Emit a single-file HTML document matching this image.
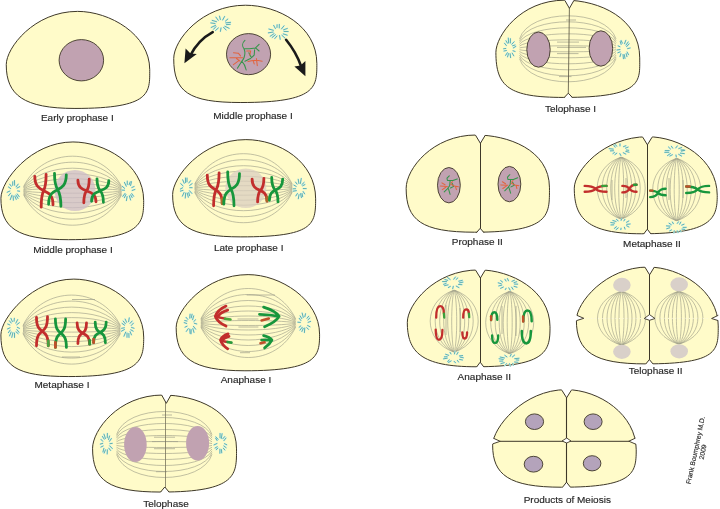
<!DOCTYPE html>
<html><head><meta charset="utf-8"><style>
html,body{margin:0;padding:0;background:#fff;}
svg{display:block;}
text{font-family:"Liberation Sans",sans-serif;font-size:10px;fill:#262626;stroke:#262626;stroke-width:0.15px;}
.t{will-change:transform;}
</style></head><body>
<svg class="t" width="720" height="509" viewBox="0 0 720 509">
<rect width="720" height="509" fill="#fff"/>
<path d="M77.63,11.38C109.64,11.38 149.72,34.35 149.72,69.52C149.72,92.71 151.81,108.44 74.96,108.44C23.47,108.44 6.26,95.07 6.26,64.66C6.26,47.78 34.12,11.38 77.63,11.38Z" fill="#fffbc9" stroke="#3e3828" stroke-width="1"/>
<ellipse cx="81.35" cy="60.25" rx="22.25" ry="20.65" fill="#c1a2b1" stroke="#3e3828" stroke-width="0.9"/>
<text x="77.3" y="121.5" text-anchor="middle" transform="translate(0 121.5) scale(1 0.96) translate(0 -121.5)">Early prophase I</text>
<path d="M245.42,5.22C277.63,5.22 316.85,25.61 316.85,63.49C316.85,86.84 317.33,102.53 240.83,102.53C188.5,102.53 173.72,91.94 173.72,58.59C173.72,40.2 201.47,5.22 245.42,5.22Z" fill="#fffbc9" stroke="#3e3828" stroke-width="1"/>
<ellipse cx="248.55" cy="54.15" rx="22.05" ry="20.55" fill="#c1a2b1" stroke="#3e3828" stroke-width="0.9"/>
<path d="M244.9,40.4 C242.5,42.5 241.8,46 244,48.8 C248,48.8 252,48.4 255.5,47.9 L259.1,44.4 M255.5,47.9 L259.1,51 M244,48.8 C245,51 245,55 244,57.7 C243.5,59 242.8,60.2 241.8,61.2 L237.4,68.3 M241.8,61.2 C243.5,63 245.2,65.5 246.2,70 M248.9,52.8 C249.8,55 250.5,56.5 251.5,57.7 C252.8,56.5 254,55.5 254.2,55 L254.6,49.7 M250.7,58.5 C249,59 247.5,60 244.9,61.2" fill="none" stroke="#35954a" stroke-width="1.05" stroke-linecap="round" stroke-linejoin="round" />
<path d="M229.9,57.7 L242.7,57.7 M233.4,52.8 L238.3,53.2 L240.5,55.9 M236.5,58.5 L240,61.2 M233.4,64.7 L239.2,60.3 M246.7,51 L250.7,51 L249.8,55 M248,61.6 L251.5,60.8 L256.9,60.3 L262.2,61.2 M256.4,58.5 L257.3,65.6 M253.3,61.2 L254.2,63.9" fill="none" stroke="#e2643f" stroke-width="1.05" stroke-linecap="round" stroke-linejoin="round" />
<path d="M226.42,24.63 L230.28,24.34M224.89,26.32 L229.11,28.3M223.54,27.3 L226.11,30.04M221.03,27.98 L220.42,31.43M218.37,27.95 L215.51,30.49M215.9,26.72 L213.6,29.2M215.57,25.36 L211.2,27.43M214.98,23.48 L210.83,22.93M216.52,21.67 L212.18,20.38M218.25,20.31 L215.91,17.13M220.36,19.51 L219.52,16.17M222.66,19.97 L224.58,16.51M225.44,21.07 L227.81,19.04M225.76,22.86 L230.57,22.35" stroke="#d2f2e6" stroke-width="1.7" stroke-linecap="round"/><path d="M226.42,24.63 L230.28,24.34M224.89,26.32 L229.11,28.3M223.54,27.3 L226.11,30.04M221.03,27.98 L220.42,31.43M218.37,27.95 L215.51,30.49M215.9,26.72 L213.6,29.2M215.57,25.36 L211.2,27.43M214.98,23.48 L210.83,22.93M216.52,21.67 L212.18,20.38M218.25,20.31 L215.91,17.13M220.36,19.51 L219.52,16.17M222.66,19.97 L224.58,16.51M225.44,21.07 L227.81,19.04M225.76,22.86 L230.57,22.35" stroke="#44a0a2" stroke-width="0.8" stroke-linecap="round"/>
<path d="M284.04,31.45 L288.2,31.55M283.26,33.91 L287.2,35.16M281.91,35.27 L284.78,37.95M279.53,35.52 L280.21,39.31M276.99,36.04 L274.82,38.52M275.4,34.81 L272.17,37.47M274.05,33.65 L270.19,36.23M273.12,32.06 L268.33,32.85M273.33,30.27 L268.88,29.04M275.4,28.56 L273.66,25.39M276.96,27.46 L277.09,24.74M279.26,27.91 L279.3,24.39M281.53,28.89 L284.01,25.81M283.6,29.77 L287.34,28.46" stroke="#d2f2e6" stroke-width="1.7" stroke-linecap="round"/><path d="M284.04,31.45 L288.2,31.55M283.26,33.91 L287.2,35.16M281.91,35.27 L284.78,37.95M279.53,35.52 L280.21,39.31M276.99,36.04 L274.82,38.52M275.4,34.81 L272.17,37.47M274.05,33.65 L270.19,36.23M273.12,32.06 L268.33,32.85M273.33,30.27 L268.88,29.04M275.4,28.56 L273.66,25.39M276.96,27.46 L277.09,24.74M279.26,27.91 L279.3,24.39M281.53,28.89 L284.01,25.81M283.6,29.77 L287.34,28.46" stroke="#44a0a2" stroke-width="0.8" stroke-linecap="round"/>
<path d="M212.7,32.1 Q198,40 190,56" fill="none" stroke="#1a1a1a" stroke-width="2.6" stroke-linecap="round" stroke-linejoin="round" stroke-linecap="butt"/>
<path d="M184.4,63.3 L185.6,48.6 L190.5,53.5 L196.8,53.9 Z" fill="#1a1a1a"/>
<path d="M286.1,39.8 Q296,52 301,66" fill="none" stroke="#1a1a1a" stroke-width="2.6" stroke-linecap="round" stroke-linejoin="round" stroke-linecap="butt"/>
<path d="M305.4,76.2 L294.4,66.6 L300.5,65.5 L305.4,61.1 Z" fill="#1a1a1a"/>
<text x="253" y="118.9" text-anchor="middle" transform="translate(0 118.9) scale(1 0.96) translate(0 -118.9)">Middle prophase I</text>
<path d="M72.95,141.96C103.96,141.96 143.67,163.63 143.67,200.42C143.67,222.56 142.22,239.69 68.61,239.69C16.19,239.69 0.91,227.25 0.91,198.25C0.91,180.97 30.8,141.96 72.95,141.96Z" fill="#fffbc9" stroke="#3e3828" stroke-width="1"/>
<path d="M23.6,190.4 C43.18,187.47 101.92,187.47 121.5,190.4M23.6,189.86 C43.18,181.65 101.92,181.65 121.5,189.86M23.6,189.26 C43.18,175.18 101.92,175.18 121.5,189.26M23.6,188.66 C43.18,168.71 101.92,168.71 121.5,188.66M23.6,188 C43.18,161.6 101.92,161.6 121.5,188M23.6,187.28 C43.18,153.84 101.92,153.84 121.5,187.28M23.6,186.56 C43.18,146.08 101.92,146.08 121.5,186.56M23.6,191 C43.18,193.93 101.92,193.93 121.5,191M23.6,191.54 C43.18,199.75 101.92,199.75 121.5,191.54M23.6,192.14 C43.18,206.22 101.92,206.22 121.5,192.14M23.6,192.74 C43.18,212.69 101.92,212.69 121.5,192.74M23.6,193.4 C43.18,219.8 101.92,219.8 121.5,193.4M23.6,194.12 C43.18,227.56 101.92,227.56 121.5,194.12M23.6,194.84 C43.18,235.32 101.92,235.32 121.5,194.84" fill="none" stroke="#9f9f8a" stroke-width="0.65"/>
<ellipse cx="75" cy="190.5" rx="20.5" ry="20.5" fill="#ccbbc8"  fill-opacity="0.75"/>
<path d="M17.62,190.92 L19.65,191.23M17.24,193.98 L19.19,196.64M15.98,195.03 L18,198.4M14.83,196.13 L16.24,199.41M13.15,196.04 L13.38,200.19M11.89,195.24 L10.28,199.61M10.6,193.2 L8.52,195.72M9.86,191.05 L7.17,192.25M10.72,188.61 L8.46,186.97M11.27,186.19 L9.67,184.18M12.67,185.35 L12.73,181.74M14.65,185.23 L14.46,180.49M16.17,186.8 L18.16,184.14M17.05,188.07 L19.7,186.65" stroke="#d2f2e6" stroke-width="1.7" stroke-linecap="round"/><path d="M17.62,190.92 L19.65,191.23M17.24,193.98 L19.19,196.64M15.98,195.03 L18,198.4M14.83,196.13 L16.24,199.41M13.15,196.04 L13.38,200.19M11.89,195.24 L10.28,199.61M10.6,193.2 L8.52,195.72M9.86,191.05 L7.17,192.25M10.72,188.61 L8.46,186.97M11.27,186.19 L9.67,184.18M12.67,185.35 L12.73,181.74M14.65,185.23 L14.46,180.49M16.17,186.8 L18.16,184.14M17.05,188.07 L19.7,186.65" stroke="#44a0a2" stroke-width="0.8" stroke-linecap="round"/>
<path d="M132.21,190.42 L134.94,189.48M131.72,193.6 L133.65,196.28M130.67,194.83 L132.13,197.5M129.36,195.87 L130.61,199.99M127.1,196.59 L126.39,200.64M125.91,194.61 L124.36,197.71M124.98,193.45 L122.79,196.31M124.5,190.25 L121.8,190.05M124.59,188.3 L122.37,186.43M126.26,186.2 L124.44,182.39M127.29,184.49 L127.26,181.08M129.09,184.69 L130.24,181.77M130.57,185.48 L131.49,181.68M131.82,187.51 L134.13,186.52" stroke="#d2f2e6" stroke-width="1.7" stroke-linecap="round"/><path d="M132.21,190.42 L134.94,189.48M131.72,193.6 L133.65,196.28M130.67,194.83 L132.13,197.5M129.36,195.87 L130.61,199.99M127.1,196.59 L126.39,200.64M125.91,194.61 L124.36,197.71M124.98,193.45 L122.79,196.31M124.5,190.25 L121.8,190.05M124.59,188.3 L122.37,186.43M126.26,186.2 L124.44,182.39M127.29,184.49 L127.26,181.08M129.09,184.69 L130.24,181.77M130.57,185.48 L131.49,181.68M131.82,187.51 L134.13,186.52" stroke="#44a0a2" stroke-width="0.8" stroke-linecap="round"/>
<path d="M34.8,176.3 C34.8,196.39 53,184.99 53,204.8 M46.1,174.3 C46.1,197.19 41.2,184.03 41.2,207.2" fill="none" stroke="#c22e2c" stroke-width="2.8" stroke-linecap="round"/>
<path d="M54.5,173.3 C54.5,196.23 60.9,183.03 60.9,206.3 M66.3,174.8 C66.3,195.62 48.6,183.83 48.6,204.3" fill="none" stroke="#17963c" stroke-width="2.8" stroke-linecap="round"/>
<path d="M77.9,180.2 C77.9,195.32 96,186.68 96,201.8 M89.2,179.2 C89.2,195.72 83.8,186.28 83.8,202.8" fill="none" stroke="#c22e2c" stroke-width="2.8" stroke-linecap="round"/>
<path d="M97,178.8 C97,195.56 103.4,186.16 103.4,202.3 M108.8,180.7 C108.8,194.8 91.6,186.56 91.6,201.3" fill="none" stroke="#17963c" stroke-width="2.8" stroke-linecap="round"/>
<text x="73" y="252.7" text-anchor="middle" transform="translate(0 252.7) scale(1 0.96) translate(0 -252.7)">Middle prophase I</text>
<path d="M245.85,139.61C279.33,139.61 315.64,161.74 315.64,198.82C315.64,224.72 313.69,236.88 240.8,236.88C190.02,236.88 172.62,225.96 172.62,194.53C172.62,177.42 201.33,139.61 245.85,139.61Z" fill="#fffbc9" stroke="#3e3828" stroke-width="1"/>
<path d="M194.7,187.9 C214.2,184.97 272.7,184.97 292.2,187.9M194.7,187.36 C214.2,179.15 272.7,179.15 292.2,187.36M194.7,186.76 C214.2,172.68 272.7,172.68 292.2,186.76M194.7,186.16 C214.2,166.21 272.7,166.21 292.2,186.16M194.7,185.5 C214.2,159.1 272.7,159.1 292.2,185.5M194.7,184.78 C214.2,151.34 272.7,151.34 292.2,184.78M194.7,184.06 C214.2,143.58 272.7,143.58 292.2,184.06M194.7,188.5 C214.2,191.43 272.7,191.43 292.2,188.5M194.7,189.04 C214.2,197.25 272.7,197.25 292.2,189.04M194.7,189.64 C214.2,203.72 272.7,203.72 292.2,189.64M194.7,190.24 C214.2,210.19 272.7,210.19 292.2,190.24M194.7,190.9 C214.2,217.3 272.7,217.3 292.2,190.9M194.7,191.62 C214.2,225.06 272.7,225.06 292.2,191.62M194.7,192.34 C214.2,232.82 272.7,232.82 292.2,192.34" fill="none" stroke="#9f9f8a" stroke-width="0.65"/>
<ellipse cx="245.8" cy="188.2" rx="20.5" ry="19.8" fill="#dbcfc0"  fill-opacity="0.75"/>
<path d="M189.74,187.66 L192.12,187.69M189.5,190.75 L191.87,193.43M188.78,192.57 L189.59,195.66M187.23,193.11 L188.32,197.2M185.68,193.1 L185.25,198.03M184.03,192.5 L182.38,196.13M182.99,190.39 L180.4,191.14M182.65,187.78 L180.38,189.02M183.06,185.87 L180.68,183.59M184.18,183.28 L182.67,179.79M185.57,182.56 L185.45,178.01M187,181.8 L187.04,178.06M188.82,182.95 L190.55,180.73M189.67,185.38 L192.14,183.63" stroke="#d2f2e6" stroke-width="1.7" stroke-linecap="round"/><path d="M189.74,187.66 L192.12,187.69M189.5,190.75 L191.87,193.43M188.78,192.57 L189.59,195.66M187.23,193.11 L188.32,197.2M185.68,193.1 L185.25,198.03M184.03,192.5 L182.38,196.13M182.99,190.39 L180.4,191.14M182.65,187.78 L180.38,189.02M183.06,185.87 L180.68,183.59M184.18,183.28 L182.67,179.79M185.57,182.56 L185.45,178.01M187,181.8 L187.04,178.06M188.82,182.95 L190.55,180.73M189.67,185.38 L192.14,183.63" stroke="#44a0a2" stroke-width="0.8" stroke-linecap="round"/>
<path d="M303.28,188.55 L306.24,188.61M303.15,191.52 L304.62,193.86M302.02,193.46 L302.64,196.58M300.57,193.7 L301.42,197.6M299.02,194.64 L298.31,198.75M297.41,193.49 L295.9,195.87M296.35,190.65 L293.16,191.19M295.56,188.71 L293.06,188.82M296.17,186.39 L293.91,185.13M297.04,184.08 L295.52,182.09M298.88,183.46 L298.2,179.29M300.43,183.45 L301.25,178.46M301.86,184.58 L304.16,182.38M302.65,185.8 L304.93,184.55" stroke="#d2f2e6" stroke-width="1.7" stroke-linecap="round"/><path d="M303.28,188.55 L306.24,188.61M303.15,191.52 L304.62,193.86M302.02,193.46 L302.64,196.58M300.57,193.7 L301.42,197.6M299.02,194.64 L298.31,198.75M297.41,193.49 L295.9,195.87M296.35,190.65 L293.16,191.19M295.56,188.71 L293.06,188.82M296.17,186.39 L293.91,185.13M297.04,184.08 L295.52,182.09M298.88,183.46 L298.2,179.29M300.43,183.45 L301.25,178.46M301.86,184.58 L304.16,182.38M302.65,185.8 L304.93,184.55" stroke="#44a0a2" stroke-width="0.8" stroke-linecap="round"/>
<path d="M207.3,175.2 C207.3,194.97 222.2,183.65 222.2,203.5 M219.1,172.8 C219.1,195.93 213.6,182.73 213.6,205.8" fill="none" stroke="#c22e2c" stroke-width="2.8" stroke-linecap="round"/><path d="M222.2,203.5 L222.2,198.54" stroke="#b0702a" stroke-width="2.8" stroke-linecap="round"/>
<path d="M227.7,172 C227.7,195.66 234,182.14 234,205.8 M239.5,173.6 C239.5,195.02 223.8,182.78 223.8,204.2" fill="none" stroke="#17963c" stroke-width="2.8" stroke-linecap="round"/>
<path d="M252.1,179.1 C252.1,194.5 267,185.7 267,201.1 M263.9,178.3 C263.9,194.82 257.6,185.38 257.6,201.9" fill="none" stroke="#c22e2c" stroke-width="2.8" stroke-linecap="round"/><path d="M267,201.1 L267,197.25" stroke="#a8682a" stroke-width="2.8" stroke-linecap="round"/>
<path d="M271.7,177.5 C271.7,194.58 278,184.82 278,201.9 M282.7,179.1 C282.7,193.94 269.4,185.46 269.4,200.3" fill="none" stroke="#17963c" stroke-width="2.8" stroke-linecap="round"/>
<text x="248.7" y="251" text-anchor="middle" transform="translate(0 251) scale(1 0.96) translate(0 -251)">Late prophase I</text>
<path d="M73.82,279.1C105.24,279.1 143.7,302.03 143.7,337.1C143.7,360.79 141.11,376.55 68.83,376.55C15.26,376.55 0.89,365.86 0.89,334.9C0.89,318.35 32.09,279.1 73.82,279.1Z" fill="#fffbc9" stroke="#3e3828" stroke-width="1"/>
<path d="M23,329.3 C42.46,326.37 100.84,326.37 120.3,329.3M23,328.76 C42.46,320.55 100.84,320.55 120.3,328.76M23,328.16 C42.46,314.08 100.84,314.08 120.3,328.16M23,327.56 C42.46,307.61 100.84,307.61 120.3,327.56M23,326.9 C42.46,300.5 100.84,300.5 120.3,326.9M23,326.18 C42.46,292.74 100.84,292.74 120.3,326.18M23,325.46 C42.46,284.98 100.84,284.98 120.3,325.46M23,329.9 C42.46,332.83 100.84,332.83 120.3,329.9M23,330.44 C42.46,338.65 100.84,338.65 120.3,330.44M23,331.04 C42.46,345.12 100.84,345.12 120.3,331.04M23,331.64 C42.46,351.59 100.84,351.59 120.3,331.64M23,332.3 C42.46,358.7 100.84,358.7 120.3,332.3M23,333.02 C42.46,366.46 100.84,366.46 120.3,333.02M23,333.74 C42.46,374.22 100.84,374.22 120.3,333.74" fill="none" stroke="#9f9f8a" stroke-width="0.65"/>
<path d="M62,357 L80,357M72,299.5 L95,299.5" stroke="#9f9f8a" stroke-width="0.7"/>
<path d="M17.32,327.32 L19.4,328.36M16.87,329.62 L19.02,332.27M16,331.81 L18.12,333.66M14.52,333.08 L14.54,337.46M12.89,332.66 L11.77,337.38M11.1,332.01 L9.55,335.85M10.12,330.14 L8.41,332.67M10.03,327.76 L7.49,328.92M9.85,324.94 L7.73,324.04M11.16,323 L9.37,320.8M12.38,321.56 L10.93,318.32M14.08,321.21 L14.36,318.27M15.86,323.08 L17.66,319.62M16.82,324.69 L19.36,322.7" stroke="#d2f2e6" stroke-width="1.7" stroke-linecap="round"/><path d="M17.32,327.32 L19.4,328.36M16.87,329.62 L19.02,332.27M16,331.81 L18.12,333.66M14.52,333.08 L14.54,337.46M12.89,332.66 L11.77,337.38M11.1,332.01 L9.55,335.85M10.12,330.14 L8.41,332.67M10.03,327.76 L7.49,328.92M9.85,324.94 L7.73,324.04M11.16,323 L9.37,320.8M12.38,321.56 L10.93,318.32M14.08,321.21 L14.36,318.27M15.86,323.08 L17.66,319.62M16.82,324.69 L19.36,322.7" stroke="#44a0a2" stroke-width="0.8" stroke-linecap="round"/>
<path d="M131.54,327.43 L134.05,328.25M130.77,329.82 L133.18,331.13M130.1,331.65 L131.45,334.85M128.86,333.53 L128.98,337.43M127.04,333.07 L126.99,337.28M125.67,332.13 L123.95,336.22M124.42,329.57 L121.45,331.21M124.36,327.77 L121.57,328.31M124.55,325.25 L122.06,323.38M125.35,323.73 L123.17,321.05M126.63,322.28 L125.15,319.06M128.62,321.7 L129.26,317.89M130.06,323.3 L132.14,321.06M131.3,325.45 L133.41,323.14" stroke="#d2f2e6" stroke-width="1.7" stroke-linecap="round"/><path d="M131.54,327.43 L134.05,328.25M130.77,329.82 L133.18,331.13M130.1,331.65 L131.45,334.85M128.86,333.53 L128.98,337.43M127.04,333.07 L126.99,337.28M125.67,332.13 L123.95,336.22M124.42,329.57 L121.45,331.21M124.36,327.77 L121.57,328.31M124.55,325.25 L122.06,323.38M125.35,323.73 L123.17,321.05M126.63,322.28 L125.15,319.06M128.62,321.7 L129.26,317.89M130.06,323.3 L132.14,321.06M131.3,325.45 L133.41,323.14" stroke="#44a0a2" stroke-width="0.8" stroke-linecap="round"/>
<path d="M36.5,317.5 C36.5,337.03 48.3,325.71 48.3,345.8 M47.5,316.7 C47.5,337.35 36.5,325.71 36.5,345.8" fill="none" stroke="#c22e2c" stroke-width="2.8" stroke-linecap="round"/><path d="M48.3,345.8 L48.3,340.78" stroke="#4aa040" stroke-width="2.8" stroke-linecap="round"/>
<path d="M55.4,319 C55.4,338.88 66.4,327.52 66.4,347.4 M65.6,319 C65.6,338.88 55.4,327.52 55.4,347.4" fill="none" stroke="#17963c" stroke-width="2.8" stroke-linecap="round"/><path d="M55.4,347.4 L55.4,342.43" stroke="#c0502a" stroke-width="2.8" stroke-linecap="round"/>
<path d="M77.1,323 C77.1,337.6 89.7,329.12 89.7,344.2 M86.5,323 C86.5,337.6 77.9,329.4 77.9,343.5" fill="none" stroke="#c22e2c" stroke-width="2.8" stroke-linecap="round"/><path d="M89.7,344.2 L89.7,340.43" stroke="#2a9a3a" stroke-width="2.8" stroke-linecap="round"/>
<path d="M95.2,322.2 C95.2,336.55 105.4,328.35 105.4,342.7 M106.2,322.2 C106.2,336.55 93.6,328.35 93.6,342.7" fill="none" stroke="#17963c" stroke-width="2.8" stroke-linecap="round"/><path d="M93.6,342.7 L93.6,339.11" stroke="#c0502a" stroke-width="2.8" stroke-linecap="round"/>
<text x="62" y="388.5" text-anchor="middle" transform="translate(0 388.5) scale(1 0.96) translate(0 -388.5)">Metaphase I</text>
<path d="M248.11,274.61C280.45,274.61 319.57,299.56 319.57,334.15C319.57,356.19 317.9,370.77 244.93,370.77C190.61,370.77 176.17,357.03 176.17,327.54C176.17,310.4 204.79,274.61 248.11,274.61Z" fill="#fffbc9" stroke="#3e3828" stroke-width="1"/>
<path d="M200.9,322.7 C219.84,319.77 276.66,319.77 295.6,322.7M200.9,322.16 C219.84,313.95 276.66,313.95 295.6,322.16M200.9,321.56 C219.84,307.48 276.66,307.48 295.6,321.56M200.9,320.96 C219.84,301.01 276.66,301.01 295.6,320.96M200.9,320.3 C219.84,293.9 276.66,293.9 295.6,320.3M200.9,319.58 C219.84,286.14 276.66,286.14 295.6,319.58M200.9,318.86 C219.84,278.38 276.66,278.38 295.6,318.86M200.9,323.3 C219.84,326.23 276.66,326.23 295.6,323.3M200.9,323.84 C219.84,332.05 276.66,332.05 295.6,323.84M200.9,324.44 C219.84,338.52 276.66,338.52 295.6,324.44M200.9,325.04 C219.84,344.99 276.66,344.99 295.6,325.04M200.9,325.7 C219.84,352.1 276.66,352.1 295.6,325.7M200.9,326.42 C219.84,359.86 276.66,359.86 295.6,326.42M200.9,327.14 C219.84,367.62 276.66,367.62 295.6,327.14" fill="none" stroke="#9f9f8a" stroke-width="0.65"/>
<path d="M246.7,295 L275,295M237.5,319 L258.4,319M238.4,327 L258.4,327M240,352.7 L250,352.7" stroke="#9f9f8a" stroke-width="0.7"/>
<path d="M194.36,323.3 L196.76,323.94M193.44,326.34 L195.65,329.16M192.84,328.6 L193.98,332.38M191.2,329.67 L191.04,333.81M189.79,329.11 L190.12,333.4M188.28,328.62 L186.31,331.44M187.04,326.19 L185,327.15M186.71,323.5 L184.17,322.61M186.97,321.02 L184.75,320.51M187.78,319.36 L186.05,317.34M189.73,318.11 L190.09,314.18M191.25,317.86 L192.11,314.21M192.62,319.66 L193.71,315.89M193.84,321.48 L195.61,319.74" stroke="#d2f2e6" stroke-width="1.7" stroke-linecap="round"/><path d="M194.36,323.3 L196.76,323.94M193.44,326.34 L195.65,329.16M192.84,328.6 L193.98,332.38M191.2,329.67 L191.04,333.81M189.79,329.11 L190.12,333.4M188.28,328.62 L186.31,331.44M187.04,326.19 L185,327.15M186.71,323.5 L184.17,322.61M186.97,321.02 L184.75,320.51M187.78,319.36 L186.05,317.34M189.73,318.11 L190.09,314.18M191.25,317.86 L192.11,314.21M192.62,319.66 L193.71,315.89M193.84,321.48 L195.61,319.74" stroke="#44a0a2" stroke-width="0.8" stroke-linecap="round"/>
<path d="M308.11,322.34 L310.65,321.38M307.59,325.48 L309.97,326.78M306.8,327.65 L308.53,329.43M304.77,328.01 L304.42,332.54M303.29,328.32 L301.89,331.49M302.26,327.25 L300.01,330.07M300.8,325.88 L299.11,327.29M300.34,322.45 L297.88,322.21M300.91,320.54 L299.22,318.31M301.78,318.64 L300.11,315.91M303.29,317.44 L302.17,313.09M304.84,316.69 L305.52,313.73M307.01,318.22 L308.68,316.22M307.91,319.92 L309.85,318.03" stroke="#d2f2e6" stroke-width="1.7" stroke-linecap="round"/><path d="M308.11,322.34 L310.65,321.38M307.59,325.48 L309.97,326.78M306.8,327.65 L308.53,329.43M304.77,328.01 L304.42,332.54M303.29,328.32 L301.89,331.49M302.26,327.25 L300.01,330.07M300.8,325.88 L299.11,327.29M300.34,322.45 L297.88,322.21M300.91,320.54 L299.22,318.31M301.78,318.64 L300.11,315.91M303.29,317.44 L302.17,313.09M304.84,316.69 L305.52,313.73M307.01,318.22 L308.68,316.22M307.91,319.92 L309.85,318.03" stroke="#44a0a2" stroke-width="0.8" stroke-linecap="round"/>
<path d="M226,306.1 Q217.5,310 215.3,316.4 Q217.5,322 226,326.1 M227.7,310.2 Q221,312 218.4,316" fill="none" stroke="#c22e2c" stroke-width="2.8" stroke-linecap="round" stroke-linejoin="round" />
<path d="M217,317 L225,318.7" fill="none" stroke="#c22e2c" stroke-width="2.4" stroke-linecap="round" stroke-linejoin="round" />
<path d="M225,318.8 L230.5,319.5" fill="none" stroke="#4aa83a" stroke-width="2.6" stroke-linecap="round" stroke-linejoin="round" />
<path d="M228.1,333.9 Q222,336 220.5,340.1 Q222,345 227.7,348.8 M229,336.5 Q224,338 222,340.5" fill="none" stroke="#c22e2c" stroke-width="2.8" stroke-linecap="round" stroke-linejoin="round" />
<path d="M222,341 L227.5,342" fill="none" stroke="#c22e2c" stroke-width="2.4" stroke-linecap="round" stroke-linejoin="round" />
<path d="M227.5,342 L231.5,342.6" fill="none" stroke="#2a9a3a" stroke-width="2.6" stroke-linecap="round" stroke-linejoin="round" />
<path d="M263.6,307.1 Q276,311 279.1,316.4 Q276,322 264.6,326.7 M259.5,314.3 Q270,314.5 279.1,316.4" fill="none" stroke="#17963c" stroke-width="2.8" stroke-linecap="round" stroke-linejoin="round" />
<path d="M261.6,320.5 L268.8,318.5" fill="none" stroke="#c0502a" stroke-width="2.6" stroke-linecap="round" stroke-linejoin="round" />
<path d="M263.6,335.6 Q270,337 271.9,340.1 Q270,344 264.6,347.9 M261.6,340.1 L271.9,340.1" fill="none" stroke="#17963c" stroke-width="2.8" stroke-linecap="round" stroke-linejoin="round" />
<path d="M260.5,343.2 L264.6,342.2" fill="none" stroke="#c0502a" stroke-width="2.6" stroke-linecap="round" stroke-linejoin="round" />
<text x="246" y="382.7" text-anchor="middle" transform="translate(0 382.7) scale(1 0.96) translate(0 -382.7)">Anaphase I</text>
<path d="M163.1,395.03C194.58,395.03 236.52,410.07 236.52,448.88C236.52,474.09 237.9,492.06 160.9,492.06C108.26,492.06 92.57,480.46 92.57,448.21C92.57,430.9 117.66,395.03 163.1,395.03Z" fill="#fffbc9" stroke="#3e3828" stroke-width="1"/>
<path d="M116.5,434.6 C126.05,403.8 202.45,403.8 212,434.6M116.5,436.4 C126.05,411.2 202.45,411.2 212,436.4M116.5,438.2 C126.05,418.6 202.45,418.6 212,438.2M116.5,440 C126.05,426 202.45,426 212,440M116.5,441.8 C126.05,433.4 202.45,433.4 212,441.8M116.5,443.6 C126.05,440.8 202.45,440.8 212,443.6M116.5,445.4 C126.05,448.2 202.45,448.2 212,445.4M116.5,447.2 C126.05,455.6 202.45,455.6 212,447.2M116.5,449 C126.05,463 202.45,463 212,449M116.5,450.8 C126.05,470.4 202.45,470.4 212,450.8M116.5,452.6 C126.05,477.8 202.45,477.8 212,452.6M116.5,454.4 C126.05,485.2 202.45,485.2 212,454.4" fill="none" stroke="#9f9f8a" stroke-width="0.65"/>
<path d="M162,415 L172,415M154,437.2 L175,437.2M152,441.6 L178,441.6M154,448.7 L175,448.7M156,471.7 L167,471.7" stroke="#9f9f8a" stroke-width="0.7"/>
<line x1="165.5" y1="401" x2="165.5" y2="488" stroke="#77735a" stroke-width="0.8"/>
<path d="M160.7,393.1 L166.3,403.3 L171.9,393.1 Z" fill="#fff" stroke="none"/><path d="M161.7,395.1 L166.3,403.3 L170.9,395.1" fill="none" stroke="#3e3828" stroke-width="1"/>
<path d="M159.6,494 L164.8,487 L170,494 Z" fill="#fff" stroke="none"/><path d="M160.6,492 L164.8,487 L169,492" fill="none" stroke="#3e3828" stroke-width="1"/>
<ellipse cx="135.4" cy="444.6" rx="11.3" ry="17.5" fill="#c1a2b1" />
<ellipse cx="197.6" cy="443.2" rx="11.5" ry="17.3" fill="#c1a2b1" />
<path d="M109.94,443.67 L112.24,443.39M109.69,445.86 L112.3,448.54M108.83,448.18 L110.61,450.45M107.37,449.83 L107.18,453.96M105.42,449.89 L104.17,453.02M103.88,448.38 L102.97,451.91M103.14,445.99 L100.93,447.07M102.73,443.37 L100.29,444.08M102.71,441.26 L101.05,439.43M104.15,439.12 L102.43,436.43M105.43,438.54 L103.97,434.17M107.28,437.71 L107.37,433.43M108.55,439.5 L109.55,436M109.52,441.27 L111.41,438.53" stroke="#d2f2e6" stroke-width="1.7" stroke-linecap="round"/><path d="M109.94,443.67 L112.24,443.39M109.69,445.86 L112.3,448.54M108.83,448.18 L110.61,450.45M107.37,449.83 L107.18,453.96M105.42,449.89 L104.17,453.02M103.88,448.38 L102.97,451.91M103.14,445.99 L100.93,447.07M102.73,443.37 L100.29,444.08M102.71,441.26 L101.05,439.43M104.15,439.12 L102.43,436.43M105.43,438.54 L103.97,434.17M107.28,437.71 L107.37,433.43M108.55,439.5 L109.55,436M109.52,441.27 L111.41,438.53" stroke="#44a0a2" stroke-width="0.8" stroke-linecap="round"/>
<path d="M224.47,443.67 L226.73,444.76M223.88,445.98 L226.12,447.68M223.34,448.22 L224.89,449.99M221.48,449.64 L221.72,452.84M219.94,449.19 L219.89,453.26M217.89,448.13 L216.22,449.63M217.17,446.75 L215.06,448.04M216.98,443.51 L214.03,444.89M217.08,440.54 L215.64,438.23M218.09,439.31 L215.84,436.88M220.04,437.71 L220.05,433.47M221.33,438.44 L222.09,433.68M222.83,438.77 L224.71,436.59M223.9,440.68 L225.96,438.05" stroke="#d2f2e6" stroke-width="1.7" stroke-linecap="round"/><path d="M224.47,443.67 L226.73,444.76M223.88,445.98 L226.12,447.68M223.34,448.22 L224.89,449.99M221.48,449.64 L221.72,452.84M219.94,449.19 L219.89,453.26M217.89,448.13 L216.22,449.63M217.17,446.75 L215.06,448.04M216.98,443.51 L214.03,444.89M217.08,440.54 L215.64,438.23M218.09,439.31 L215.84,436.88M220.04,437.71 L220.05,433.47M221.33,438.44 L222.09,433.68M222.83,438.77 L224.71,436.59M223.9,440.68 L225.96,438.05" stroke="#44a0a2" stroke-width="0.8" stroke-linecap="round"/>
<text x="166" y="506.8" text-anchor="middle" transform="translate(0 506.8) scale(1 0.96) translate(0 -506.8)">Telophase</text>
<path d="M564.87,0.17C599.53,0.17 639.72,18.38 639.72,57.89C639.72,81.36 643.61,97.43 563.79,97.43C508.69,97.43 495.89,86.78 495.89,52.4C495.89,36.44 519.67,0.17 564.87,0.17Z" fill="#fffbc9" stroke="#3e3828" stroke-width="1"/>
<path d="M519.5,38.9 C529.15,8.1 606.35,8.1 616,38.9M519.5,40.7 C529.15,15.5 606.35,15.5 616,40.7M519.5,42.5 C529.15,22.9 606.35,22.9 616,42.5M519.5,44.3 C529.15,30.3 606.35,30.3 616,44.3M519.5,46.1 C529.15,37.7 606.35,37.7 616,46.1M519.5,47.9 C529.15,45.1 606.35,45.1 616,47.9M519.5,49.7 C529.15,52.5 606.35,52.5 616,49.7M519.5,51.5 C529.15,59.9 606.35,59.9 616,51.5M519.5,53.3 C529.15,67.3 606.35,67.3 616,53.3M519.5,55.1 C529.15,74.7 606.35,74.7 616,55.1M519.5,56.9 C529.15,82.1 606.35,82.1 616,56.9M519.5,58.7 C529.15,89.5 606.35,89.5 616,58.7" fill="none" stroke="#9f9f8a" stroke-width="0.65"/>
<path d="M566,20 L576,20M557,42.1 L579,42.1M557,47.4 L586,47.4M557,53.6 L578.5,53.6M559,76.6 L571.5,76.6" stroke="#9f9f8a" stroke-width="0.7"/>
<line x1="569.4" y1="8" x2="568.3" y2="93.5" stroke="#5f5a44" stroke-width="0.85"/>
<path d="M563.9,-1.5 L569.4,8.3 L574.9,-1.5 Z" fill="#fff" stroke="none"/><path d="M564.9,0.5 L569.4,8.3 L573.9,0.5" fill="none" stroke="#3e3828" stroke-width="1"/>
<path d="M563.5,99.2 L568.3,93.2 L573.1,99.2 Z" fill="#fff" stroke="none"/><path d="M564.5,97.2 L568.3,93.2 L572.1,97.2" fill="none" stroke="#3e3828" stroke-width="1"/>
<ellipse cx="538.5" cy="49.6" rx="11.7" ry="17.6" fill="#c1a2b1" stroke="#3e3828" stroke-width="0.9"/>
<ellipse cx="600.9" cy="48.5" rx="11.8" ry="17.7" fill="#c1a2b1" stroke="#3e3828" stroke-width="0.9"/>
<path d="M513.3,47.91 L515.81,46.45M513.03,50.76 L515.06,51.45M512.21,53.09 L513.8,55.82M510.15,53.74 L510.59,57.62M508.53,53.63 L507.54,56.85M507.33,52.76 L505.61,55.4M506.4,50.54 L504.02,51.01M505.78,48.47 L503.63,48.77M506.35,45.52 L504.55,43.25M507.41,43.19 L505.99,40.76M508.64,42.94 L508.28,38.09M510.38,42.95 L510.44,38.71M511.83,44.17 L514.13,41.77M512.62,45.72 L515.06,45.01" stroke="#d2f2e6" stroke-width="1.7" stroke-linecap="round"/><path d="M513.3,47.91 L515.81,46.45M513.03,50.76 L515.06,51.45M512.21,53.09 L513.8,55.82M510.15,53.74 L510.59,57.62M508.53,53.63 L507.54,56.85M507.33,52.76 L505.61,55.4M506.4,50.54 L504.02,51.01M505.78,48.47 L503.63,48.77M506.35,45.52 L504.55,43.25M507.41,43.19 L505.99,40.76M508.64,42.94 L508.28,38.09M510.38,42.95 L510.44,38.71M511.83,44.17 L514.13,41.77M512.62,45.72 L515.06,45.01" stroke="#44a0a2" stroke-width="0.8" stroke-linecap="round"/>
<path d="M627.56,48.62 L630.15,48M627.13,52.05 L628.53,54.72M626.17,53.63 L626.93,56.62M624.3,54.65 L624.99,58.41M623.01,54.58 L623.43,58.69M620.85,53.7 L619.99,56.59M620.11,51.91 L617.86,52.74M620,49.54 L617.01,49.99M619.93,46.7 L618.13,45.9M621.13,44.4 L620.29,41.55M622.4,43.13 L621.1,40.49M624.55,43.68 L625.84,40.29M626.01,45.06 L628.15,41.96M626.57,46.67 L629.14,43.85" stroke="#d2f2e6" stroke-width="1.7" stroke-linecap="round"/><path d="M627.56,48.62 L630.15,48M627.13,52.05 L628.53,54.72M626.17,53.63 L626.93,56.62M624.3,54.65 L624.99,58.41M623.01,54.58 L623.43,58.69M620.85,53.7 L619.99,56.59M620.11,51.91 L617.86,52.74M620,49.54 L617.01,49.99M619.93,46.7 L618.13,45.9M621.13,44.4 L620.29,41.55M622.4,43.13 L621.1,40.49M624.55,43.68 L625.84,40.29M626.01,45.06 L628.15,41.96M626.57,46.67 L629.14,43.85" stroke="#44a0a2" stroke-width="0.8" stroke-linecap="round"/>
<text x="570.5" y="112" text-anchor="middle" transform="translate(0 112) scale(1 0.96) translate(0 -112)">Telophase I</text>
<path d="M476.14,135C506.88,135 549.47,149.11 549.47,187.79C549.47,215.09 550.9,232.21 474.67,232.21C421.45,232.21 406.15,220.22 406.15,188.29C406.15,168.91 432.51,135 476.14,135Z" fill="#fffbc9" stroke="#3e3828" stroke-width="1"/>
<line x1="480.5" y1="142" x2="480.5" y2="229" stroke="#3e3828" stroke-width="1"/>
<path d="M474.5,133.2 L480.4,143.3 L486.3,133.2 Z" fill="#fff" stroke="none"/><path d="M475.5,135.2 L480.4,143.3 L485.3,135.2" fill="none" stroke="#3e3828" stroke-width="1"/>
<path d="M475.4,234.7 L480.2,228.3 L485,234.7 Z" fill="#fff" stroke="none"/><path d="M476.4,232.7 L480.2,228.3 L484,232.7" fill="none" stroke="#3e3828" stroke-width="1"/>
<ellipse cx="448.9" cy="185.2" rx="11.4" ry="17.7" fill="#c1a2b1" stroke="#3e3828" stroke-width="0.9"/>
<g transform="translate(448.9,185.2)"><path d="M0.4,-9.4 L-1.9,-7 L-1.5,-4.7 L4,-4.7 L8.3,-6.3 M1.2,-4.3 L0.8,0.4 L-1.5,3.6 L-4.7,6.7 M-0.4,3.6 L1.2,9.1 M3.2,-1.9 L4.8,1.2 L1.6,2.8" fill="none" stroke="#35954a" stroke-width="1.05" stroke-linecap="round" stroke-linejoin="round" /><path d="M-8.6,0.8 L-1.5,1.2 M-7,-2.3 L-3.9,-0.4 M-6.6,4.4 L-3.1,2 M1.6,-1.1 L5.5,0.8 L9.5,1.6 M6.7,1.6 L7.5,4.4 M2.4,-2.3 L3.6,-3.5" fill="none" stroke="#e2643f" stroke-width="1.05" stroke-linecap="round" stroke-linejoin="round" /></g>
<ellipse cx="509.4" cy="184.1" rx="11.4" ry="17.7" fill="#c1a2b1" stroke="#3e3828" stroke-width="0.9"/>
<g transform="translate(509.4,184.1)"><path d="M0.4,-9.4 L-1.9,-7 L-1.5,-4.7 L4,-4.7 L8.3,-6.3 M1.2,-4.3 L0.8,0.4 L-1.5,3.6 L-4.7,6.7 M-0.4,3.6 L1.2,9.1 M3.2,-1.9 L4.8,1.2 L1.6,2.8" fill="none" stroke="#35954a" stroke-width="1.05" stroke-linecap="round" stroke-linejoin="round" /><path d="M-8.6,0.8 L-1.5,1.2 M-7,-2.3 L-3.9,-0.4 M-6.6,4.4 L-3.1,2 M1.6,-1.1 L5.5,0.8 L9.5,1.6 M6.7,1.6 L7.5,4.4 M2.4,-2.3 L3.6,-3.5" fill="none" stroke="#e2643f" stroke-width="1.05" stroke-linecap="round" stroke-linejoin="round" /></g>
<text x="477.3" y="245" text-anchor="middle" transform="translate(0 245) scale(1 0.96) translate(0 -245)">Prophase II</text>
<path d="M647.62,136.73C679.72,136.73 717.24,158.71 717.24,195.52C717.24,218.26 712.08,233.78 641.79,233.78C586.82,233.78 574.28,217.91 574.28,188.17C574.28,171.21 603.03,136.73 647.62,136.73Z" fill="#fffbc9" stroke="#3e3828" stroke-width="1"/>
<path d="M621.12,157.3 C617.89,168.39 617.89,207.81 621.12,218.9M621,157.3 C612.6,168.39 612.6,207.81 621,218.9M620.88,157.3 C607.31,168.39 607.31,207.81 620.88,218.9M620.77,157.3 C602.01,168.39 602.01,207.81 620.77,218.9M620.63,157.3 C596.06,168.39 596.06,207.81 620.63,218.9M620.48,157.3 C589.44,168.39 589.44,207.81 620.48,218.9M621.28,157.3 C624.51,168.39 624.51,207.81 621.28,218.9M621.4,157.3 C629.8,168.39 629.8,207.81 621.4,218.9M621.52,157.3 C635.1,168.39 635.1,207.81 621.52,218.9M621.63,157.3 C640.39,168.39 640.39,207.81 621.63,218.9M621.77,157.3 C646.34,168.39 646.34,207.81 621.77,218.9M621.92,157.3 C652.96,168.39 652.96,207.81 621.92,218.9" fill="none" stroke="#9f9f8a" stroke-width="0.65"/>
<path d="M676.62,158.5 C673.39,169.68 673.39,209.42 676.62,220.6M676.5,158.5 C668.1,169.68 668.1,209.42 676.5,220.6M676.38,158.5 C662.81,169.68 662.81,209.42 676.38,220.6M676.27,158.5 C657.51,169.68 657.51,209.42 676.27,220.6M676.13,158.5 C651.56,169.68 651.56,209.42 676.13,220.6M675.98,158.5 C644.94,169.68 644.94,209.42 675.98,220.6M676.78,158.5 C680.01,169.68 680.01,209.42 676.78,220.6M676.9,158.5 C685.3,169.68 685.3,209.42 676.9,220.6M677.02,158.5 C690.6,169.68 690.6,209.42 677.02,220.6M677.13,158.5 C695.89,169.68 695.89,209.42 677.13,220.6M677.27,158.5 C701.84,169.68 701.84,209.42 677.27,220.6M677.42,158.5 C708.46,169.68 708.46,209.42 677.42,220.6" fill="none" stroke="#9f9f8a" stroke-width="0.65"/>
<path d="M612,180 L612,200M626,178 L626,198M669,178 L669,200M683,180 L683,198" stroke="#9f9f8a" stroke-width="0.7"/>
<line x1="647.5" y1="144" x2="647.5" y2="230" stroke="#3e3828" stroke-width="1"/>
<path d="M641.8,135.3 L647.4,144.8 L653,135.3 Z" fill="#fff" stroke="none"/><path d="M642.8,137.3 L647.4,144.8 L652,137.3" fill="none" stroke="#3e3828" stroke-width="1"/>
<path d="M642.8,235.8 L647.3,229.2 L651.8,235.8 Z" fill="#fff" stroke="none"/><path d="M643.8,233.8 L647.3,229.2 L650.8,233.8" fill="none" stroke="#3e3828" stroke-width="1"/>
<path d="M626.42,149.99 L628.72,150.29M625.8,151.4 L628.99,152.21M623.26,152.71 L625.81,154.07M619.81,153.61 L620.87,155.51M616.81,153.18 L614.91,154.6M614.57,152.38 L612.95,153.54M613.52,150.74 L610.4,150.89M613.26,149.12 L609.18,148.65M615.1,147.13 L613.89,145.39M616.69,146.19 L615.38,144.57M619.99,145.9 L620.02,143.89M623.52,146.64 L625.87,145.72M625.49,148.14 L628.11,147.11" stroke="#d2f2e6" stroke-width="1.7" stroke-linecap="round"/><path d="M626.42,149.99 L628.72,150.29M625.8,151.4 L628.99,152.21M623.26,152.71 L625.81,154.07M619.81,153.61 L620.87,155.51M616.81,153.18 L614.91,154.6M614.57,152.38 L612.95,153.54M613.52,150.74 L610.4,150.89M613.26,149.12 L609.18,148.65M615.1,147.13 L613.89,145.39M616.69,146.19 L615.38,144.57M619.99,145.9 L620.02,143.89M623.52,146.64 L625.87,145.72M625.49,148.14 L628.11,147.11" stroke="#44a0a2" stroke-width="0.8" stroke-linecap="round"/>
<path d="M626.84,224.35 L630.15,223.97M626.6,225.75 L628.93,227.01M624.39,227.25 L625.05,229.06M621.07,228.22 L620.83,229.6M618.2,227.89 L616.11,229.6M616.36,226.74 L614.43,228.35M613.76,224.83 L610.97,224.96M614.63,223.12 L610.81,222.51M616.02,221.47 L612.89,220.51M618.14,220.96 L616.48,219.27M621.12,220.38 L621.6,218.76M623.91,220.86 L624.9,219.33M626.51,222.27 L628.81,220.97" stroke="#d2f2e6" stroke-width="1.7" stroke-linecap="round"/><path d="M626.84,224.35 L630.15,223.97M626.6,225.75 L628.93,227.01M624.39,227.25 L625.05,229.06M621.07,228.22 L620.83,229.6M618.2,227.89 L616.11,229.6M616.36,226.74 L614.43,228.35M613.76,224.83 L610.97,224.96M614.63,223.12 L610.81,222.51M616.02,221.47 L612.89,220.51M618.14,220.96 L616.48,219.27M621.12,220.38 L621.6,218.76M623.91,220.86 L624.9,219.33M626.51,222.27 L628.81,220.97" stroke="#44a0a2" stroke-width="0.8" stroke-linecap="round"/>
<path d="M681.38,151.12 L684.76,150.33M680.39,153.13 L684.35,153.63M678.66,154.36 L681.57,156.07M675.97,155.02 L676.32,156.98M672.37,154.74 L669.92,156.02M670.35,153.59 L667.54,155.55M668.8,152.33 L664.79,152.38M669.15,150.59 L665.16,150.6M670.54,149.01 L668.49,147.01M672.69,148.12 L671.4,146.27M675.76,147.91 L677.38,145.89M678.79,148.57 L681.67,147.58M680.96,149.93 L683.97,149.95" stroke="#d2f2e6" stroke-width="1.7" stroke-linecap="round"/><path d="M681.38,151.12 L684.76,150.33M680.39,153.13 L684.35,153.63M678.66,154.36 L681.57,156.07M675.97,155.02 L676.32,156.98M672.37,154.74 L669.92,156.02M670.35,153.59 L667.54,155.55M668.8,152.33 L664.79,152.38M669.15,150.59 L665.16,150.6M670.54,149.01 L668.49,147.01M672.69,148.12 L671.4,146.27M675.76,147.91 L677.38,145.89M678.79,148.57 L681.67,147.58M680.96,149.93 L683.97,149.95" stroke="#44a0a2" stroke-width="0.8" stroke-linecap="round"/>
<path d="M683.09,227.4 L686.22,227.35M682.02,229.11 L684.8,229.46M680.17,230.3 L680.94,231.83M677.3,230.8 L678.11,232.59M674.23,230.8 L673.88,232.92M671.52,229.91 L669.64,230.9M669.71,227.79 L666.68,228.73M670,226.14 L666.44,225.9M671.32,224.67 L669.07,223.23M673.4,223.73 L672.37,222.06M677.27,223.43 L678.5,221.81M679.66,224.19 L680.8,222.12M681.73,225.13 L684.03,224.21" stroke="#d2f2e6" stroke-width="1.7" stroke-linecap="round"/><path d="M683.09,227.4 L686.22,227.35M682.02,229.11 L684.8,229.46M680.17,230.3 L680.94,231.83M677.3,230.8 L678.11,232.59M674.23,230.8 L673.88,232.92M671.52,229.91 L669.64,230.9M669.71,227.79 L666.68,228.73M670,226.14 L666.44,225.9M671.32,224.67 L669.07,223.23M673.4,223.73 L672.37,222.06M677.27,223.43 L678.5,221.81M679.66,224.19 L680.8,222.12M681.73,225.13 L684.03,224.21" stroke="#44a0a2" stroke-width="0.8" stroke-linecap="round"/>
<path d="M584.7,185.9 C599.96,185.9 591.24,191.8 606.5,191.8 M584.7,191.8 C599.96,191.8 591.24,185.9 606.5,185.9" fill="none" stroke="#c22e2c" stroke-width="2.4" stroke-linecap="round"/><path d="M606.5,185.9 L602.36,185.9" stroke="#3aa03a" stroke-width="2.4" stroke-linecap="round"/>
<path d="M622.4,185.9 C632.27,185.9 626.63,191.8 636.5,191.8 M622.4,192.4 C632.27,192.4 626.63,184.7 636.5,184.7" fill="none" stroke="#c22e2c" stroke-width="2.4" stroke-linecap="round"/><path d="M636.5,184.7 L634.03,184.7" stroke="#2a9a3a" stroke-width="2.4" stroke-linecap="round"/>
<path d="M650.2,190.6 C660.98,190.6 654.82,195.3 665.6,195.3 M650.2,197.1 C660.98,197.1 654.82,188.8 665.6,188.8" fill="none" stroke="#17963c" stroke-width="2.4" stroke-linecap="round"/><path d="M650.2,190.6 L652.51,190.6" stroke="#c0502a" stroke-width="2.4" stroke-linecap="round"/>
<path d="M686.2,186.5 C702.23,186.5 693.07,192.4 709.1,192.4 M686.2,193 C702.23,193 693.07,185.9 709.1,185.9" fill="none" stroke="#17963c" stroke-width="2.4" stroke-linecap="round"/><path d="M686.2,186.5 L689.63,186.5" stroke="#c0502a" stroke-width="2.4" stroke-linecap="round"/>
<text x="652" y="247.3" text-anchor="middle" transform="translate(0 247.3) scale(1 0.96) translate(0 -247.3)">Metaphase II</text>
<path d="M479.15,269.9C510.78,269.9 550.01,290.13 550.01,326.72C550.01,349.74 548.03,366.77 476.16,366.77C420.67,366.77 407.32,351.7 407.32,322.29C407.32,305.11 433.65,269.9 479.15,269.9Z" fill="#fffbc9" stroke="#3e3828" stroke-width="1"/>
<path d="M454.12,290.3 C450.89,301.39 450.89,340.81 454.12,351.9M454,290.3 C445.6,301.39 445.6,340.81 454,351.9M453.88,290.3 C440.31,301.39 440.31,340.81 453.88,351.9M453.76,290.3 C435.01,301.39 435.01,340.81 453.76,351.9M453.63,290.3 C429.06,301.39 429.06,340.81 453.63,351.9M453.48,290.3 C422.44,301.39 422.44,340.81 453.48,351.9M454.27,290.3 C457.51,301.39 457.51,340.81 454.27,351.9M454.39,290.3 C462.8,301.39 462.8,340.81 454.39,351.9M454.51,290.3 C468.09,301.39 468.09,340.81 454.51,351.9M454.63,290.3 C473.39,301.39 473.39,340.81 454.63,351.9M454.77,290.3 C479.34,301.39 479.34,340.81 454.77,351.9M454.92,290.3 C485.96,301.39 485.96,340.81 454.92,351.9" fill="none" stroke="#9f9f8a" stroke-width="0.65"/>
<path d="M509.62,291.5 C506.39,302.68 506.39,342.42 509.62,353.6M509.5,291.5 C501.1,302.68 501.1,342.42 509.5,353.6M509.38,291.5 C495.81,302.68 495.81,342.42 509.38,353.6M509.26,291.5 C490.51,302.68 490.51,342.42 509.26,353.6M509.13,291.5 C484.56,302.68 484.56,342.42 509.13,353.6M508.98,291.5 C477.94,302.68 477.94,342.42 508.98,353.6M509.77,291.5 C513.01,302.68 513.01,342.42 509.77,353.6M509.89,291.5 C518.3,302.68 518.3,342.42 509.89,353.6M510.01,291.5 C523.6,302.68 523.6,342.42 510.01,353.6M510.13,291.5 C528.89,302.68 528.89,342.42 510.13,353.6M510.27,291.5 C534.84,302.68 534.84,342.42 510.27,353.6M510.42,291.5 C541.46,302.68 541.46,342.42 510.42,353.6" fill="none" stroke="#9f9f8a" stroke-width="0.65"/>
<path d="M446,305 L446,335M460,308 L460,332M502,306 L502,334M516,306 L516,336" stroke="#9f9f8a" stroke-width="0.7"/>
<line x1="480.5" y1="277" x2="480.5" y2="362.5" stroke="#3e3828" stroke-width="1"/>
<path d="M474.7,268.3 L480.4,278 L486.1,268.3 Z" fill="#fff" stroke="none"/><path d="M475.7,270.3 L480.4,278 L485.1,270.3" fill="none" stroke="#3e3828" stroke-width="1"/>
<path d="M475.7,368.8 L480.2,362.2 L484.7,368.8 Z" fill="#fff" stroke="none"/><path d="M476.7,366.8 L480.2,362.2 L483.7,366.8" fill="none" stroke="#3e3828" stroke-width="1"/>
<path d="M459.53,282.79 L462.98,282.15M458.55,284.45 L461.9,284.68M456.24,286.12 L458.96,287.6M453.3,286.26 L452.72,288.73M450.36,286.43 L448.36,287.51M448.06,284.88 L444.56,285.64M446.04,283.48 L443.61,284.29M446.58,281.6 L442.6,281.53M447.72,280.36 L444.88,279.53M450.16,279.49 L447.51,277.53M453.74,279.19 L455.46,277.01M456.19,279.42 L457.83,277.92M458.81,281.16 L462.32,280.36" stroke="#d2f2e6" stroke-width="1.7" stroke-linecap="round"/><path d="M459.53,282.79 L462.98,282.15M458.55,284.45 L461.9,284.68M456.24,286.12 L458.96,287.6M453.3,286.26 L452.72,288.73M450.36,286.43 L448.36,287.51M448.06,284.88 L444.56,285.64M446.04,283.48 L443.61,284.29M446.58,281.6 L442.6,281.53M447.72,280.36 L444.88,279.53M450.16,279.49 L447.51,277.53M453.74,279.19 L455.46,277.01M456.19,279.42 L457.83,277.92M458.81,281.16 L462.32,280.36" stroke="#44a0a2" stroke-width="0.8" stroke-linecap="round"/>
<path d="M460.21,357.14 L463.32,357.78M459.61,359.45 L462.49,360M457.39,360.4 L458.59,362.04M454.13,361.32 L455.54,362.8M451.12,360.91 L448.57,362.43M449.22,359.79 L447.71,361.65M447.25,358.22 L443.53,358.82M447.05,356.72 L444.37,356.86M448.7,355.3 L445.58,354.26M450.97,353.92 L450.01,352.33M454.47,353.9 L455.01,351.45M456.83,354.42 L458.07,352.22M459.45,355.9 L462.63,355.56" stroke="#d2f2e6" stroke-width="1.7" stroke-linecap="round"/><path d="M460.21,357.14 L463.32,357.78M459.61,359.45 L462.49,360M457.39,360.4 L458.59,362.04M454.13,361.32 L455.54,362.8M451.12,360.91 L448.57,362.43M449.22,359.79 L447.71,361.65M447.25,358.22 L443.53,358.82M447.05,356.72 L444.37,356.86M448.7,355.3 L445.58,354.26M450.97,353.92 L450.01,352.33M454.47,353.9 L455.01,351.45M456.83,354.42 L458.07,352.22M459.45,355.9 L462.63,355.56" stroke="#44a0a2" stroke-width="0.8" stroke-linecap="round"/>
<path d="M514.54,284.08 L517.68,284.15M514.06,286.35 L516.96,287.17M511.65,287.18 L513.06,289.31M508.83,287.86 L510.14,290.16M506.1,288.25 L505.29,289.6M503.36,287.03 L500.63,288.33M501.8,285.08 L498.74,285.92M501.31,283.77 L498.23,282.83M502.58,282.08 L500.71,280.6M506.04,281 L504.93,279.29M508.47,280.76 L507.44,278.54M512,281.3 L514.42,280.3M514.04,282.62 L516.73,281.71" stroke="#d2f2e6" stroke-width="1.7" stroke-linecap="round"/><path d="M514.54,284.08 L517.68,284.15M514.06,286.35 L516.96,287.17M511.65,287.18 L513.06,289.31M508.83,287.86 L510.14,290.16M506.1,288.25 L505.29,289.6M503.36,287.03 L500.63,288.33M501.8,285.08 L498.74,285.92M501.31,283.77 L498.23,282.83M502.58,282.08 L500.71,280.6M506.04,281 L504.93,279.29M508.47,280.76 L507.44,278.54M512,281.3 L514.42,280.3M514.04,282.62 L516.73,281.71" stroke="#44a0a2" stroke-width="0.8" stroke-linecap="round"/>
<path d="M516.16,359.94 L518.72,360.09M514.54,361.98 L517.94,362.31M512.79,363.39 L513.29,365.14M509.54,363.69 L510.26,366.05M506.69,363.66 L504.75,365.56M504.21,362.67 L500.89,363.63M502.84,361.05 L499.74,361.15M503.23,359.43 L499.07,358.76M504.39,357.94 L500.22,357.06M506.91,356.89 L504.83,355.37M510.23,356.29 L511.14,354.35M512.41,356.93 L514.6,355.07M514.72,358.65 L519.02,358.24" stroke="#d2f2e6" stroke-width="1.7" stroke-linecap="round"/><path d="M516.16,359.94 L518.72,360.09M514.54,361.98 L517.94,362.31M512.79,363.39 L513.29,365.14M509.54,363.69 L510.26,366.05M506.69,363.66 L504.75,365.56M504.21,362.67 L500.89,363.63M502.84,361.05 L499.74,361.15M503.23,359.43 L499.07,358.76M504.39,357.94 L500.22,357.06M506.91,356.89 L504.83,355.37M510.23,356.29 L511.14,354.35M512.41,356.93 L514.6,355.07M514.72,358.65 L519.02,358.24" stroke="#44a0a2" stroke-width="0.8" stroke-linecap="round"/>
<path d="M436.2,317.7 C436.2,309.075 437.955,306.2 440.1,306.2 C442.135,306.2 443.8,307.975 443.8,313.3 M435.7,329.6 C435.7,337.25 437.14,339.8 438.9,339.8 C440.825,339.8 442.4,337.35 442.4,330" fill="none" stroke="#c22e2c" stroke-width="2.3" stroke-linecap="round" stroke-linejoin="round" />
<path d="M443.9,313.6 L444.2,317.5" fill="none" stroke="#3aa03a" stroke-width="2.3" stroke-linecap="round" stroke-linejoin="round" />
<path d="M463.2,317.7 C463.2,311.4 464.505,309.3 466.1,309.3 C467.64,309.3 468.9,310.3 468.9,313.3 M462.3,332.3 C462.3,336.95 463.335,338.5 464.6,338.5 C465.975,338.5 467.1,336.95 467.1,332.3" fill="none" stroke="#c22e2c" stroke-width="2.3" stroke-linecap="round" stroke-linejoin="round" />
<path d="M469,313.6 L469.2,317.2" fill="none" stroke="#3aa03a" stroke-width="2.3" stroke-linecap="round" stroke-linejoin="round" />
<path d="M491.1,320 C491.1,314.225 492.585,312.3 494.4,312.3 C495.995,312.3 497.3,314.175 497.3,319.8 M492.1,335.4 C492.1,341.025 493.405,342.9 495,342.9 C496.76,342.9 498.2,341.025 498.2,335.4" fill="none" stroke="#17963c" stroke-width="2.4" stroke-linecap="round" stroke-linejoin="round" />
<path d="M491.1,316.3 L491.1,320" fill="none" stroke="#c0502a" stroke-width="2.4" stroke-linecap="round" stroke-linejoin="round" />
<path d="M523.2,321.2 C523.2,313.1 525.18,310.4 527.6,310.4 C529.855,310.4 531.7,313.1 531.7,321.2 M521.8,331.1 C521.8,340.325 523.825,343.4 526.3,343.4 C528.775,343.4 530.8,340.325 530.8,331.1" fill="none" stroke="#17963c" stroke-width="2.5" stroke-linecap="round" stroke-linejoin="round" />
<path d="M523.1,316.5 L523.2,321.5" fill="none" stroke="#c0502a" stroke-width="2.5" stroke-linecap="round" stroke-linejoin="round" />
<text x="484.3" y="380" text-anchor="middle" transform="translate(0 380) scale(1 0.96) translate(0 -380)">Anaphase II</text>
<path d="M648,267.04C680.25,267.04 718.24,290.52 718.24,325.92C718.24,350.39 718.75,363.89 645.54,363.89C594.29,363.89 576.38,352.31 576.38,319.89C576.38,303 605.36,267.04 648,267.04Z" fill="#fffbc9" stroke="#3e3828" stroke-width="1"/>
<path d="M621.42,291.4 C618.19,301.05 618.19,335.35 621.42,345M621.3,291.4 C612.9,301.05 612.9,335.35 621.3,345M621.18,291.4 C607.61,301.05 607.61,335.35 621.18,345M621.07,291.4 C602.31,301.05 602.31,335.35 621.07,345M620.93,291.4 C596.36,301.05 596.36,335.35 620.93,345M620.78,291.4 C589.74,301.05 589.74,335.35 620.78,345M621.58,291.4 C624.81,301.05 624.81,335.35 621.58,345M621.7,291.4 C630.1,301.05 630.1,335.35 621.7,345M621.82,291.4 C635.39,301.05 635.39,335.35 621.82,345M621.93,291.4 C640.69,301.05 640.69,335.35 621.93,345M622.07,291.4 C646.64,301.05 646.64,335.35 622.07,345M622.22,291.4 C653.26,301.05 653.26,335.35 622.22,345" fill="none" stroke="#9f9f8a" stroke-width="0.65"/>
<path d="M678.82,291.4 C675.59,300.87 675.59,334.53 678.82,344M678.7,291.4 C670.3,300.87 670.3,334.53 678.7,344M678.58,291.4 C665,300.87 665,334.53 678.58,344M678.47,291.4 C659.71,300.87 659.71,334.53 678.47,344M678.33,291.4 C653.76,300.87 653.76,334.53 678.33,344M678.18,291.4 C647.14,300.87 647.14,334.53 678.18,344M678.98,291.4 C682.21,300.87 682.21,334.53 678.98,344M679.1,291.4 C687.5,300.87 687.5,334.53 679.1,344M679.22,291.4 C692.79,300.87 692.79,334.53 679.22,344M679.33,291.4 C698.09,300.87 698.09,334.53 679.33,344M679.47,291.4 C704.04,300.87 704.04,334.53 679.47,344M679.62,291.4 C710.66,300.87 710.66,334.53 679.62,344" fill="none" stroke="#9f9f8a" stroke-width="0.65"/>
<line x1="649.5" y1="274" x2="649.5" y2="360" stroke="#3e3828" stroke-width="1"/>
<path d="M644,265.3 L649.6,274.8 L655.2,265.3 Z" fill="#fff" stroke="none"/><path d="M645,267.3 L649.6,274.8 L654.2,267.3" fill="none" stroke="#3e3828" stroke-width="1"/>
<path d="M644.9,365.8 L649.4,359.6 L653.9,365.8 Z" fill="#fff" stroke="none"/><path d="M645.9,363.8 L649.4,359.6 L652.9,363.8" fill="none" stroke="#3e3828" stroke-width="1"/>
<line x1="584" y1="318.5" x2="711" y2="318.5" stroke="#fbf6e0" stroke-width="0.9" stroke-dasharray="1.2 2.3"/>
<path d="M649.5,314.6 L655,318.5 L649.5,320.3 L644.2,318.5 Z" fill="#fff" stroke="#3e3828" stroke-width="0.9"/>
<path d="M574.3,314.7 L576.8,315.3 L583.8,318.3 L576.6,320.6 L574.1,321.2 Z" fill="#fff"/><path d="M576.8,315.3 L583.8,318.3 L576.6,320.6" fill="none" stroke="#3e3828" stroke-width="0.95"/>
<path d="M720.8,314.7 L718.3,315.3 L711.6,318.5 L718.2,320.6 L720.7,321.2 Z" fill="#fff"/><path d="M718.3,315.3 L711.6,318.5 L718.2,320.6" fill="none" stroke="#3e3828" stroke-width="0.95"/>
<ellipse cx="621.9" cy="284.9" rx="8.8" ry="7.1" fill="#d9d0c9" />
<ellipse cx="621.9" cy="351.8" rx="8.8" ry="7.1" fill="#d9d0c9" />
<ellipse cx="679.2" cy="284.4" rx="8.8" ry="7.1" fill="#d9d0c9" />
<ellipse cx="679.2" cy="351.3" rx="8.8" ry="7.1" fill="#d9d0c9" />
<text x="655.7" y="374.4" text-anchor="middle" transform="translate(0 374.4) scale(1 0.96) translate(0 -374.4)">Telophase II</text>
<path d="M566.22,389.64C599.29,389.64 636.22,414.78 636.22,449.77C636.22,473.63 633.56,487.22 561.66,487.22C508.61,487.22 492.64,474.71 492.64,445.15C492.64,427.75 523.25,389.64 566.22,389.64Z" fill="#fffbc9" stroke="#3e3828" stroke-width="1"/>
<line x1="566.5" y1="397" x2="566.5" y2="483" stroke="#3e3828" stroke-width="1.1"/>
<line x1="500" y1="441.3" x2="629" y2="441.3" stroke="#3e3828" stroke-width="1" />
<path d="M560.9,388.3 L566.6,397.8 L572.3,388.3 Z" fill="#fff" stroke="none"/><path d="M561.9,390.3 L566.6,397.8 L571.3,390.3" fill="none" stroke="#3e3828" stroke-width="1"/>
<path d="M561.9,488.8 L566.5,482.2 L571.1,488.8 Z" fill="#fff" stroke="none"/><path d="M562.9,486.8 L566.5,482.2 L570.1,486.8" fill="none" stroke="#3e3828" stroke-width="1"/>
<path d="M566.7,438 L571,441 L566.7,443 L562,441 Z" fill="#fff" stroke="#3e3828" stroke-width="0.9"/>
<path d="M490.8,437.6 L493.3,438.2 L500.2,441.3 L492.9,443.8 L490.4,444.4 Z" fill="#fff"/><path d="M493.3,438.2 L500.2,441.3 L492.9,443.8" fill="none" stroke="#3e3828" stroke-width="0.95"/>
<path d="M638,437.5 L635.5,438.1 L628.8,441.2 L636.1,444.3 L638.6,444.9 Z" fill="#fff"/><path d="M635.5,438.1 L628.8,441.2 L636.1,444.3" fill="none" stroke="#3e3828" stroke-width="0.95"/>
<ellipse cx="534.5" cy="421.7" rx="9.1" ry="7.8" fill="#b4a3bb" stroke="#3e3828" stroke-width="0.9"/>
<ellipse cx="593.1" cy="421.7" rx="9" ry="7.8" fill="#b4a3bb" stroke="#3e3828" stroke-width="0.9"/>
<ellipse cx="533.5" cy="464.2" rx="9.3" ry="7.9" fill="#b4a3bb" stroke="#3e3828" stroke-width="0.9"/>
<ellipse cx="592.1" cy="463.3" rx="8.8" ry="7.6" fill="#b4a3bb" stroke="#3e3828" stroke-width="0.9"/>
<text x="567.3" y="503.4" text-anchor="middle" transform="translate(0 503.4) scale(1 0.96) translate(0 -503.4)">Products of Meiosis</text>
<g transform="translate(690.5,484.5) rotate(-77.9)" ><text x="0" y="0" style="font-size:6.7px">Frank Boumphrey M.D.</text><text x="34.5" y="7.5" text-anchor="middle" style="font-size:6.7px">2009</text></g>
</svg></body></html>
